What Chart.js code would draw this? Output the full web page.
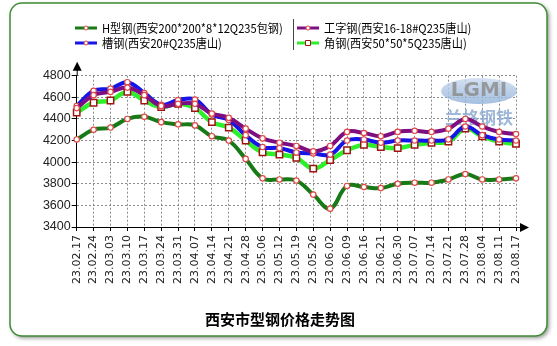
<!DOCTYPE html>
<html>
<head>
<meta charset="utf-8">
<script src="https://cdn.jsdelivr.net/npm/chart.js@4.4.1/dist/chart.umd.min.js"></script>
<style>
  html, body { margin: 0; padding: 0; background: #fff; }
  canvas { display: block; }
</style>
</head>
<body>
<canvas id="SteelCanvas" width="557" height="346"></canvas>
<script>
// weekly dates (yy.mm.dd)
const dates = ['23.02.17','23.02.24','23.03.03','23.03.10','23.03.17','23.03.24','23.03.31',
  '23.04.07','23.04.14','23.04.21','23.04.28','23.05.06','23.05.12','23.05.19','23.05.26',
  '23.06.02','23.06.09','23.06.16','23.06.21','23.06.30','23.07.07','23.07.14','23.07.21',
  '23.07.28','23.08.04','23.08.11','23.08.17']

// prices (yuan/t)
const hBeam   = [4210,4300,4320,4400,4420,4370,4350,4340,4240,4200,4030,3850,3840,3830,3700,
                 3570,3780,3770,3760,3800,3810,3810,3840,3890,3840,3840,3850]
const iBeam   = [4500,4620,4650,4690,4620,4520,4540,4540,4450,4410,4310,4220,4180,4150,4100,
                 4150,4280,4270,4240,4280,4290,4280,4310,4400,4330,4280,4260]
const channel = [4520,4660,4680,4740,4640,4530,4575,4580,4440,4390,4250,4140,4130,4090,4080,
                 4070,4200,4210,4180,4200,4200,4200,4210,4330,4250,4210,4200]
const angle   = [4460,4550,4570,4650,4570,4510,4540,4500,4370,4320,4200,4090,4070,4040,3940,
                 4020,4110,4160,4140,4130,4160,4180,4190,4310,4240,4190,4170]

const seriesNames = ['H型钢(西安200*200*8*12Q235包钢)','工字钢(西安16-18#Q235唐山)',
                     '槽钢(西安20#Q235唐山)','角钢(西安50*50*5Q235唐山)']
const yTicks = [3400,3600,3800,4000,4200,4400,4600,4800]
const chartTitle = '西安市型钢价格走势图'

const cjk = '"Noto Sans CJK SC", "DejaVu Sans", sans-serif'

//------------------------------------------------------------------------
// frame, arrows, legend, title and the logo watermark
//------------------------------------------------------------------------
const decoPlugin = {
  id: 'deco',
  beforeDraw(chart) {
    const ctx = chart.ctx
    ctx.save()
    ctx.fillStyle = '#fff'
    ctx.fillRect(0, 0, chart.width, chart.height)
    ctx.shadowColor = 'rgba(0,0,0,0.45)'
    ctx.shadowBlur = 4
    ctx.shadowOffsetX = 2
    ctx.shadowOffsetY = 2
    ctx.beginPath()
    ctx.roundRect(10, 3, 537, 333, 12)
    ctx.fillStyle = '#fff'
    ctx.fill()
    ctx.shadowColor = 'transparent'
    ctx.lineWidth = 1.5
    ctx.strokeStyle = '#3d8c32'
    ctx.stroke()
    ctx.restore()
  },
  beforeDatasetsDraw(chart) {
    // LGMI logo watermark
    const ctx = chart.ctx
    ctx.save()
    ctx.globalAlpha = 0.8
    ctx.beginPath()
    ctx.ellipse(479, 91, 38, 13, 0, 0, Math.PI * 2)
    const g = ctx.createLinearGradient(0, 78, 0, 104)
    g.addColorStop(0, '#c9d9ee')
    g.addColorStop(1, '#8fb0d8')
    ctx.fillStyle = g
    ctx.fill()
    ctx.font = 'bold 20px "DejaVu Sans", sans-serif'
    ctx.textAlign = 'center'
    ctx.textBaseline = 'middle'
    ctx.fillStyle = '#8a8a8a'
    ctx.fillText('LGMI', 479, 91)
    ctx.font = 'bold 17px "Noto Sans CJK SC", serif'
    ctx.fillStyle = '#87a6cf'
    ctx.fillText('兰格钢铁', 479, 118)
    ctx.restore()
  },
  afterDraw(chart) {
    const ctx = chart.ctx
    const area = chart.chartArea
    ctx.save()
    // axis extensions and arrow heads
    ctx.strokeStyle = '#000'
    ctx.fillStyle = '#000'
    ctx.lineWidth = 1
    ctx.beginPath()
    ctx.moveTo(area.left + 0.5, area.top)
    ctx.lineTo(area.left + 0.5, area.top - 6)
    ctx.moveTo(area.right, area.bottom + 0.5)
    ctx.lineTo(area.right + 5, area.bottom + 0.5)
    ctx.stroke()
    ctx.beginPath()
    ctx.moveTo(area.left + 0.5, area.top - 14)
    ctx.lineTo(area.left - 4, area.top - 5)
    ctx.lineTo(area.left + 5, area.top - 5)
    ctx.closePath()
    ctx.fill()
    ctx.beginPath()
    ctx.moveTo(area.right + 13, area.bottom + 0.5)
    ctx.lineTo(area.right + 4, area.bottom - 4)
    ctx.lineTo(area.right + 4, area.bottom + 5)
    ctx.closePath()
    ctx.fill()

    // legend, two columns
    const spots = [[75, 28], [297, 28], [75, 43], [297, 43]]
    ctx.font = '11.5px ' + cjk
    ctx.textBaseline = 'middle'
    ctx.textAlign = 'left'
    chart.data.datasets.forEach((ds, i) => {
      const [x, y] = spots[i]
      ctx.strokeStyle = ds.borderColor
      ctx.lineWidth = 3
      ctx.beginPath()
      ctx.moveTo(x, y)
      ctx.lineTo(x + 22, y)
      ctx.stroke()
      ctx.fillStyle = '#fff'
      ctx.strokeStyle = ds.pointBorderColor
      ctx.lineWidth = 1
      ctx.beginPath()
      if (ds.pointStyle === 'rect') ctx.rect(x + 8.5, y - 2.5, 5, 5)
      else ctx.arc(x + 11, y, 2, 0, Math.PI * 2)
      ctx.fill()
      ctx.stroke()
      ctx.fillStyle = '#000'
      // keep the label inside its column like the original
      ctx.save()
      ctx.translate(x + 27, y)
      ctx.scale(0.97, 1.05)
      ctx.fillText(ds.label, 0, 0)
      ctx.restore()
    })
    ctx.strokeStyle = '#444'
    ctx.lineWidth = 1
    ctx.beginPath()
    ctx.moveTo(293.5, 19)
    ctx.lineTo(293.5, 50)
    ctx.stroke()

    // title under the chart
    ctx.font = 'bold 15px ' + cjk
    ctx.textAlign = 'center'
    ctx.fillStyle = '#000'
    ctx.fillText(chartTitle, 280, 319)
    ctx.restore()
  }
}

function makeSet(label, data, color, square) {
  return {
    label: label,
    data: data,
    borderColor: color,
    borderWidth: square ? 4.5 : 4,
    tension: 0.4,
    pointStyle: square ? 'rect' : 'circle',
    pointRadius: square ? 4.5 : 2.7,
    pointBackgroundColor: '#fff',
    pointBorderColor: square ? '#a01414' : '#e04848',
    pointBorderWidth: square ? 1.5 : 1.2,
    clip: false
  }
}

const steelChart = new Chart(document.getElementById('SteelCanvas'), {
  type: 'line',
  data: {
    labels: dates,
    datasets: [
      makeSet(seriesNames[0], hBeam, '#167a16', false),
      makeSet(seriesNames[1], iBeam, '#7d0f82', false),
      makeSet(seriesNames[2], channel, '#1515e8', false),
      makeSet(seriesNames[3], angle, '#2cf02c', true)
    ]
  },
  options: {
    responsive: false,
    animation: false,
    devicePixelRatio: 1,
    layout: { padding: { top: 75.7, right: 41, bottom: 0, left: 0 } },
    plugins: {
      legend: { display: false },
      tooltip: { enabled: false }
    },
    scales: {
      x: {
        offset: false,
        afterFit: (scale) => { scale.height = 119 },
        grid: { color: '#8c8c8c', tickColor: '#000', tickLength: 4, lineWidth: 1 },
        border: { color: '#000', width: 1, dash: [2, 2] },
        ticks: {
          autoSkip: false,
          minRotation: 90,
          maxRotation: 90,
          padding: 4,
          color: '#222',
          font: { family: '"DejaVu Sans", sans-serif', size: 11 }
        }
      },
      y: {
        min: 3400,
        max: 4800,
        afterFit: (scale) => { scale.width = 76.7 },
        afterBuildTicks: (scale) => { scale.ticks = yTicks.map(v => ({ value: v })) },
        grid: { color: '#8c8c8c', tickColor: '#000', tickLength: 5, lineWidth: 1 },
        border: { color: '#000', width: 1, dash: [2, 2] },
        ticks: {
          padding: 1,
          color: '#222',
          callback: (v) => String(v),
          font: { family: '"Liberation Sans", Arial, sans-serif', size: 12.5 }
        }
      }
    }
  },
  plugins: [decoPlugin]
})
</script>
</body>
</html>
